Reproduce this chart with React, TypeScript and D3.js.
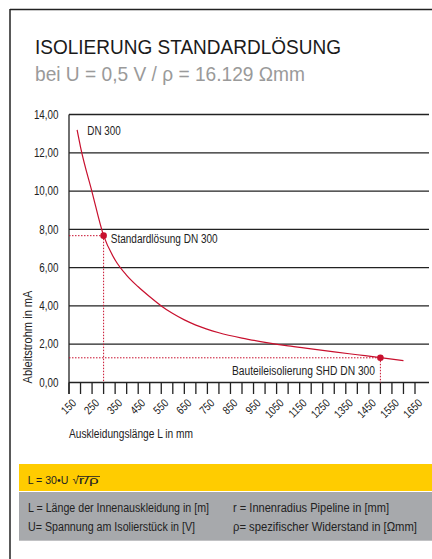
import React from "react";
import * as d3 from "d3";

const lengths = [185, 200, 250, 300, 350, 400, 450, 500, 550, 600, 650, 700, 800, 900, 1000, 1100, 1200, 1300, 1400, 1500, 1600];
const currents = [13.2, 12.3, 9.95, 7.67, 6.4, 5.6, 5.0, 4.48, 4.0, 3.6, 3.27, 3.0, 2.6, 2.32, 2.1, 1.91, 1.76, 1.6, 1.45, 1.3, 1.14];
const markedLengths = [300, 1500];
const markedCurrents = [7.67, 1.29];
const markedLabels = ["Standardlösung DN 300", "Bauteileisolierung SHD DN 300"];
const yTicks = [0, 2, 4, 6, 8, 10, 12, 14];
const xLabelTicks = d3.range(150, 1651, 100);
const xMinorTicks = d3.range(150, 1651, 50);

const FONT = "'Liberation Sans', Arial, sans-serif";
const RED = "#c8102e";
const INK = "#222";

function T(props: {
  x: number; y: number; size: number; sx?: number; anchor?: string; fill?: string; rot?: number; dy?: string; children: React.ReactNode;
}) {
  const { x, y, size, sx = 0.82, anchor = "start", fill = INK, rot = 0, dy } = props;
  return (
    <text
      transform={`translate(${x},${y}) rotate(${rot}) scale(${sx},1)`}
      fontSize={size}
      textAnchor={anchor}
      fill={fill}
      dy={dy}
    >
      {props.children}
    </text>
  );
}

export default function App() {
  const x = d3.scaleLinear().domain([150, 1650]).range([69, 415]);
  const y = d3.scaleLinear().domain([0, 14]).range([382.5, 114.5]);
  const pts = lengths.map((l, i) => [l, currents[i]] as [number, number]);
  const line = d3
    .line<[number, number]>()
    .x((d) => x(d[0]))
    .y((d) => y(d[1]))
    .curve(d3.curveMonotoneX);
  const fmt = (v: number) => v.toFixed(2).replace(".", ",");
  return (
    <svg width={432} height={559} style={{ position: "absolute", left: 0, top: 0, background: "#fff" }} fontFamily={FONT}>
      <rect x={0} y={0} width={432} height={559} fill="#fff" />
      {/* frame */}
      <line x1={10} y1={9.5} x2={432} y2={9.5} stroke="#222" strokeWidth={1.5} />
      <line x1={10} y1={9} x2={10} y2={559} stroke="#222" strokeWidth={1.5} />
      {/* titles */}
      <text x={35} y={53.5} fontSize={21} fill="#1a1a1a" textLength={306} lengthAdjust="spacingAndGlyphs">ISOLIERUNG STANDARDLÖSUNG</text>
      <text x={35} y={81} fontSize={21} fill="#9a9a9a" textLength={270} lengthAdjust="spacingAndGlyphs">bei U = 0,5 V / ρ = 16.129 Ωmm</text>
      {/* grid */}
      {yTicks.map((t) => (
        <g key={t}>
          <line x1={69} x2={429} y1={y(t)} y2={y(t)} stroke="#222" strokeWidth={1.3} />
          <T x={58.5} y={y(t) + 4.2} size={12} anchor="end">{fmt(t)}</T>
        </g>
      ))}
      <line x1={69} x2={69} y1={y(14)} y2={394} stroke="#222" strokeWidth={1.3} />
      {xMinorTicks.map((t) => (
        <line key={t} x1={x(t)} x2={x(t)} y1={y(0)} y2={394} stroke="#222" strokeWidth={1.3} />
      ))}
      {xLabelTicks.map((t) => (
        <T key={t} x={x(t) + 5} y={401} rot={-45} size={11.5} anchor="end" dy="0.35em">{t}</T>
      ))}
      <text x={69} y={438.3} fontSize={12.5} fill={INK} textLength={124} lengthAdjust="spacingAndGlyphs">Auskleidungslänge L in mm</text>
      <text transform={`translate(31.5,383.5) rotate(-90)`} fontSize={12.5} fill={INK} textLength={93} lengthAdjust="spacingAndGlyphs">Ableitstrohm in mA</text>
      {/* dotted guides */}
      {markedLengths.map((l, i) => (
        <g key={l}>
          <line x1={69} x2={x(l)} y1={y(markedCurrents[i])} y2={y(markedCurrents[i])} stroke={RED} strokeWidth={1} strokeDasharray="1.5 1.5" />
          <line x1={x(l)} x2={x(l)} y1={y(markedCurrents[i])} y2={y(0)} stroke={RED} strokeWidth={1} strokeDasharray="1.5 1.5" />
        </g>
      ))}
      <path d={line(pts) || ""} fill="none" stroke={RED} strokeWidth={1.2} />
      {markedLengths.map((l, i) => (
        <circle key={l} cx={x(l)} cy={y(markedCurrents[i])} r={3.3} fill={RED} />
      ))}
      <text x={87.3} y={135} fontSize={12} fill={INK} textLength={33.4} lengthAdjust="spacingAndGlyphs">DN 300</text>
      <text x={110.7} y={242.7} fontSize={12} fill={INK} textLength={107} lengthAdjust="spacingAndGlyphs">{markedLabels[0]}</text>
      <text x={232} y={375.3} fontSize={12} fill={INK} textLength={143} lengthAdjust="spacingAndGlyphs">{markedLabels[1]}</text>
      {/* formula boxes */}
      <rect x={19} y={464} width={413} height={27} fill="#ffcc00" />
      <text x={27.7} y={484.3} fontSize={11.5} fill={INK} textLength={40.6} lengthAdjust="spacingAndGlyphs">L = 30•U</text>
      <text x={72.5} y={484.3} fontSize={11.5} fill={INK}>√</text>
      <line x1={77.5} x2={100} y1={476.5} y2={476.5} stroke={INK} strokeWidth={0.8} />
      <text x={78.7} y={484.3} fontSize={11.5} fill={INK} textLength={20} lengthAdjust="spacingAndGlyphs">r/ρ</text>
      <rect x={19} y={492} width={413} height={48.7} fill="#a7a9ac" />
      <text x={28} y={511.7} fontSize={12} fill={INK} textLength={181} lengthAdjust="spacingAndGlyphs">L = Länge der Innenauskleidung in [m]</text>
      <text x={28} y={530.7} fontSize={12} fill={INK} textLength={167} lengthAdjust="spacingAndGlyphs">U= Spannung am Isolierstück in [V]</text>
      <text x={233} y={511.7} fontSize={12} fill={INK} textLength={156} lengthAdjust="spacingAndGlyphs">r  = Innenradius Pipeline in [mm]</text>
      <text x={233} y={530.7} fontSize={12} fill={INK} textLength={184} lengthAdjust="spacingAndGlyphs">ρ= spezifischer Widerstand in [Ωmm]</text>
    </svg>
  );
}
